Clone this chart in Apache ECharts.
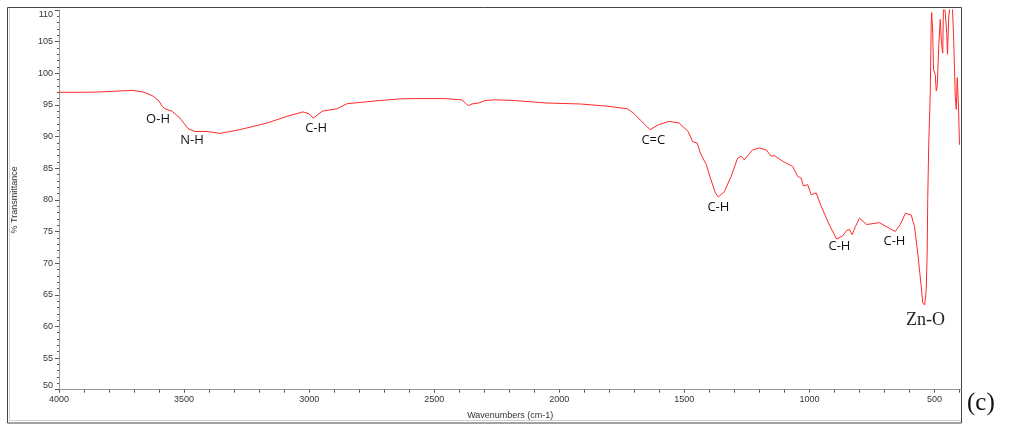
<!DOCTYPE html>
<html>
<head>
<meta charset="utf-8">
<script src="https://cdn.jsdelivr.net/npm/echarts@6/dist/echarts.min.js"></script>
<style>html,body{margin:0;padding:0;background:#fff;}#chart{width:1009px;height:426px;}</style>
</head>
<body>
<div id="chart"></div>
<script>
// Wavenumbers (cm-1)
const wavenumbers = [4000,3900,3836,3760,3704,3660,3624,3600,3588,3576,3548,3516,3484,3456,3408,3356,3276,3168,3088,3024,3000,2984,2948,2888,2848,2768,2716,2636,2583,2456,2389,2372,2363,2349,2323,2296,2256,2183,2049,1916,1809,1729,1703,1676,1637,1601,1561,1521,1485,1467,1449,1436,1412,1396,1376,1364,1340,1313,1287,1273,1260,1251,1227,1200,1173,1153,1140,1107,1067,1047,1033,1024,1007,993,973,953,920,891,867,850,840,829,816,800,771,720,680,657,637,616,593,580,567,553,547,539,533,529,527,523,517,513,511,507,504,497,493,489,483,477,472,467,464,457,451,448,443,437,429,424,417,413,409,404,400];
// % Transmittance
const transmittance = [97.0,97.0,97.05,97.2,97.3,97.0,96.4,95.6,94.8,94.4,94.0,92.9,91.25,90.8,90.8,90.5,91.1,92.15,93.2,93.9,93.6,92.9,94.0,94.4,95.2,95.5,95.7,95.95,96.0,96.0,95.8,95.15,94.9,95.15,95.3,95.7,95.8,95.7,95.3,95.15,94.8,94.4,93.7,92.6,91.1,91.9,92.4,92.15,90.8,89.2,89.0,87.4,85.55,83.45,81.1,80.45,81.3,83.7,86.6,86.9,86.3,86.8,87.9,88.2,87.9,86.9,87.0,86.1,85.3,83.7,83.45,82.2,82.4,80.8,81.1,79.0,76.0,73.8,74.3,75.2,75.3,74.5,75.8,77.1,76.1,76.4,75.5,75.0,76.1,77.9,77.6,75.8,71.6,66.3,63.7,63.4,65.8,72.1,80.0,88.7,96.6,108.0,109.6,106.4,100.6,99.8,97.2,97.9,104.3,108.5,104.8,103.2,111,109.6,106.4,103.0,108.9,111,111,106.4,96.4,94.3,99.3,94.8,88.7];
// Band annotations
const bandNames = ['O-H','N-H','C-H','C=C','C-H','C-H','C-H','Zn-O'];
const bandX = [3604,3468,2972,1624,1364,880,660,536];
const bandY = [92.67,89.35,91.25,89.35,78.9,72.6,73.5,61.0];
// Axis ticks and labels
const xLabelValues = [4000,3500,3000,2500,2000,1500,1000,500];
const xTickValues = [4000,3900,3800,3700,3600,3500,3400,3300,3200,3100,3000,2900,2800,2700,2600,2500,2400,2300,2200,2100,2000,1900,1800,1700,1600,1500,1400,1300,1200,1100,1000,900,800,700,600,500,400];

const chart = echarts.init(document.getElementById('chart'), null, {renderer:'canvas'});
const seriesData = wavenumbers.map((w,i)=>[w, transmittance[i]]);
const markData = bandNames.map((n,i)=>{
  const serif = n === 'Zn-O';
  return {
    name: n, coord: [bandX[i], bandY[i]],
    label: {
      show: true, position: 'inside', formatter: n,
      color: serif ? '#222' : '#111',
      fontFamily: serif ? 'Liberation Serif' : 'Open Sans',
      fontSize: serif ? 18 : 13
    }
  };
});
chart.setOption({
  animation: false,
  backgroundColor: '#fff',
  grid: {left: 59, right: 47.5, top: 10, bottom: 36.3, containLabel: false},
  xAxis: {
    type: 'value', inverse: true, min: 392, max: 4000,
    name: 'Wavenumbers (cm-1)', nameLocation: 'middle', nameGap: 21,
    nameTextStyle: {fontFamily: 'Liberation Sans', fontSize: 9, color: '#333'},
    axisLine: {show: true, lineStyle: {color: '#999', width: 1}},
    axisTick: {show: true, length: 3, customValues: xTickValues, lineStyle: {color: '#555'}},
    axisLabel: {customValues: xLabelValues, formatter: v => String(v), fontFamily: 'Liberation Sans', fontSize: 9, color: '#333', margin: 5},
    splitLine: {show: false}
  },
  yAxis: {
    type: 'value', min: 50, max: 110, interval: 5,
    name: '% Transmittance', nameLocation: 'middle', nameGap: 40,
    nameTextStyle: {fontFamily: 'Liberation Sans', fontSize: 9, color: '#333'},
    axisLine: {show: true, lineStyle: {color: '#999', width: 1}},
    axisTick: {show: true, length: 4, lineStyle: {color: '#555'}},
    minorTick: {show: true, splitNumber: 5, length: 2, lineStyle: {color: '#555'}},
    axisLabel: {formatter: v => String(v), fontFamily: 'Liberation Sans', fontSize: 9, color: '#333', margin: 6,
      verticalAlignMaxLabel: 'top', verticalAlignMinLabel: 'bottom'},
    splitLine: {show: false}
  },
  series: [{
    type: 'line', data: seriesData, showSymbol: false, symbol: 'none',
    lineStyle: {color: '#ff2a2a', width: 1}, smooth: false, clip: true,
    markPoint: {symbol: 'circle', symbolSize: 0, data: markData, silent: true}
  }],
  graphic: [
    {type: 'rect', shape: {x: 7.5, y: 7.5, width: 954, height: 415.5}, style: {fill: 'none', stroke: '#444', lineWidth: 1}, silent: true},
    {type: 'line', shape: {x1: 9.5, y1: 8, x2: 9.5, y2: 421}, style: {stroke: '#d0d0d0', lineWidth: 1}, silent: true},
    {type: 'line', shape: {x1: 9, y1: 420.5, x2: 961, y2: 420.5}, style: {stroke: '#d0d0d0', lineWidth: 1}, silent: true},
    {type: 'text', left: 967, top: 391, style: {text: '(c)', font: '25px "Liberation Serif"', fill: '#111'}, silent: true}
  ]
});
</script>
</body>
</html>
